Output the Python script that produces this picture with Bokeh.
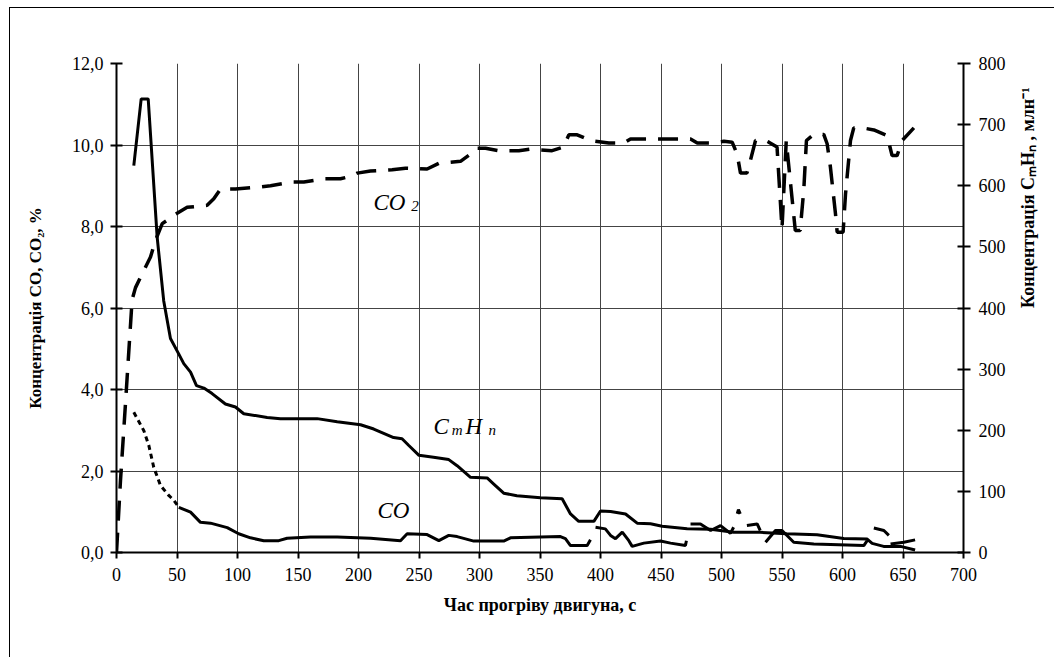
import math
from bokeh.plotting import figure
from bokeh.models import Range1d, LinearAxis, FixedTicker, Label
from bokeh.embed import file_html
from bokeh.resources import INLINE

NaN = float("nan")

# ---------------- data ----------------
x_ticks = [0, 50, 100, 150, 200, 250, 300, 350, 400, 450, 500, 550, 600, 650, 700]
left_ticks = [0, 2, 4, 6, 8, 10, 12]
left_tick_labels = ["0,0", "2,0", "4,0", "6,0", "8,0", "10,0", "12,0"]
right_ticks = [0, 100, 200, 300, 400, 500, 600, 700, 800]

# CmHn, млн^-1 (right axis)
hc_t = [14.3, 20.4, 26.2, 33.6, 39, 44.6, 51.4, 55.6, 61.2, 66.1, 72.2, 79, 90, 98.3,
        105.2, 124.5, 135.5, 165.8, 182.4, 201.7, 212.6, 229, 236, 241.6, 250, 262,
        274.6, 281.5, 292.6, 306.3, 311.8, 320, 330.9, 350.4, 368.3, 375.2, 382, 394.5,
        400, 408.3, 420.7, 430.3, 441.3, 451, 471.6, 491, 510, 532, 554, 579, 601,
        620.4, 624.5, 634, 648, 660]
hc_v = [633, 742, 742, 516, 412, 350, 325, 309, 295, 273, 269, 260, 243, 238,
        227, 221, 219, 219, 214, 209, 202, 188, 186, 175, 159, 156,
        152, 142, 123, 122, 112, 97, 93, 89.5, 88, 63, 51, 51,
        68, 67, 63, 48, 47, 43, 39, 38, 33, 33, 30.5, 29, 23,
        22, 15, 10, 10, 4]

# CO2, % (left axis)
co2_t = [0, 3.3, 6, 8.8, 11.6, 12.9, 15.7, 21.2, 28.1, 32.2, 37.8, 48.8, 58.4, 74.9,
         80.4, 86, 98.3, 114.8, 127.3, 143.8, 154.8, 171.3, 185.1, 193.4, 198.9, 209.9,
         227.8, 238.8, 256.7, 266.4, 284.3, 292.6, 296.7, 305, 316, 332.5, 342.1, 360,
         369.6, 373.8, 380.7, 391.7, 406.9, 419.3, 424.8, 449.6, 474.4, 480, 491, 502,
         508.8, 512.9, 515.7, 521, 523.9, 528.1, 536.4, 539.1, 545.9, 550, 553.5, 561,
         565, 568, 570.2, 576.3, 584.5, 587.3, 590, 594.2, 595.6, 600.5, 602.5, 606.6,
         609.3, 616.3, 625.9, 636.9, 641, 645.1, 649.3, 659]
co2_v = [0, 1.77, 3.0, 4.3, 5.6, 6.2, 6.5, 6.84, 7.25, 7.66, 8.07, 8.3, 8.47, 8.52,
         8.68, 8.92, 8.92, 8.96, 9.0, 9.09, 9.09, 9.17, 9.17, 9.23, 9.31, 9.36,
         9.39, 9.43, 9.41, 9.55, 9.6, 9.78, 9.92, 9.92, 9.86, 9.86, 9.9, 9.86,
         9.95, 10.25, 10.25, 10.11, 10.05, 10.05, 10.15, 10.15, 10.15, 10.05, 10.05, 10.09,
         10.07, 9.78, 9.31, 9.31, 9.62, 10.11, 10.11, 10.07, 9.95, 7.95, 10.1, 7.9,
         7.9, 8.9, 10.11, 10.26, 10.26, 10.03, 9.46, 8.31, 7.86, 7.86, 8.8, 10.11,
         10.42, 10.42, 10.37, 10.23, 9.74, 9.74, 10.11, 10.42]

# CO, % (left axis); NaN marks gaps in the record
co_t = [14.3, 22.6, 26.7, 30.8, 36.4, 43.2, 47.4, 51.5, 61.2, 69.4, 77.7, 91.5, 101,
        110.7, 121.7, 134.1, 141, 160.3, 182.4, 210, 234.7, 240.2, 256.7, 266.4, 274.6,
        281.5, 295.3, 320, 325.6, 366.9, 371, 375.2, 389, 391.7, NaN, 395.9, 404, 408.3,
        412.4, 418, 423.4, 426.2, 435.8, 449.6, 457.9, 470.2, 471, NaN, 474.4, 482.6,
        491, 499.2, 507.4, 510, NaN, 513, 514, 515.5, NaN, 521, 529.5, 532, NaN, 536.4,
        544.6, 550, 559.7, 576.3, 617.6, 620.4, NaN, 625.9, 634.2, 638.3, NaN, 639.7,
        650.7, 660]
co_v = [3.44, 2.99, 2.63, 2.09, 1.64, 1.40, 1.28, 1.11, 0.99, 0.74, 0.72, 0.61, 0.46,
        0.36, 0.29, 0.29, 0.35, 0.38, 0.38, 0.35, 0.29, 0.46, 0.44, 0.29, 0.42,
        0.39, 0.28, 0.28, 0.36, 0.39, 0.34, 0.17, 0.17, 0.31, NaN, 0.62, 0.58, 0.42,
        0.34, 0.5, 0.29, 0.15, 0.23, 0.28, 0.23, 0.17, 0.29, NaN, 0.70, 0.70,
        0.54, 0.66, 0.47, 0.62, NaN, 0.95, 1.05, 0.95, NaN, 0.66, 0.70, 0.54, NaN, 0.25,
        0.54, 0.54, 0.25, 0.21, 0.17, 0.29, NaN, 0.6, 0.54, 0.42, NaN, 0.21,
        0.25, 0.31]
co_sparse_end = 8  # first points drawn as a dotted line

x_title = "Час прогріву двигуна, с"
left_title = "Концентрація CO, CO₂, %"
right_title = "Концентрація CₘHₙ , млн⁻¹"

# ---------------- figure ----------------
SERIF = "Liberation Serif"
W, H = 1045, 650
p = figure(width=W, height=H, output_backend="svg", toolbar_location=None,
           x_range=Range1d(0, 700), y_range=Range1d(0, 12),
           min_border_left=106, min_border_right=92, min_border_top=55, min_border_bottom=106)
p.styles = {"border-left": "1px solid black", "border-top": "1px solid black",
            "margin-left": "9px", "margin-top": "7px"}
p.outline_line_color = None
p.extra_y_ranges = {"hc": Range1d(0, 800)}

# grid
p.xgrid.ticker = FixedTicker(ticks=x_ticks)
p.ygrid.ticker = FixedTicker(ticks=left_ticks)
for g in (p.xgrid, p.ygrid):
    g.grid_line_color = "#444444"
    g.grid_line_width = 1

def style_axis(ax):
    ax.axis_line_color = "black"
    ax.axis_line_width = 2
    ax.major_tick_line_color = "black"
    ax.major_tick_line_width = 2
    ax.minor_tick_line_color = None
    ax.major_label_text_font = SERIF
    ax.major_label_text_font_size = "18px"
    ax.major_label_text_color = "black"
    ax.axis_label_text_font = SERIF
    ax.axis_label_text_font_size = "18px"
    ax.axis_label_text_font_style = "bold"
    ax.axis_label_text_color = "black"

xa = p.xaxis[0]
style_axis(xa)
xa.ticker = FixedTicker(ticks=x_ticks)
xa.major_tick_in = 0
xa.major_tick_out = 6
xa.major_label_standoff = 9
xa.axis_label = x_title
xa.axis_label_standoff = 11

ya = p.yaxis[0]
style_axis(ya)
ya.ticker = FixedTicker(ticks=left_ticks)
ya.major_label_overrides = {t: s for t, s in zip(left_ticks, left_tick_labels)}
ya.major_tick_in = 6
ya.major_tick_out = 6
ya.major_label_standoff = 7
ya.axis_label = left_title
ya.axis_label_text_font_size = "17px"
ya.axis_label_standoff = 24

ra = LinearAxis(y_range_name="hc")
style_axis(ra)
ra.ticker = FixedTicker(ticks=right_ticks)
ra.major_tick_in = 6
ra.major_tick_out = 7
ra.major_label_standoff = 8
ra.axis_label = right_title
ra.axis_label_standoff = 19
ra.axis_label_orientation = math.pi / 2
p.add_layout(ra, "right")

# ---------------- series ----------------
p.line(co2_t, co2_v, line_color="black", line_width=3.5, line_dash="20 12")
p.line(hc_t, hc_v, y_range_name="hc", line_color="black", line_width=3)
p.line(co_t[:co_sparse_end], co_v[:co_sparse_end], line_color="black", line_width=3,
       line_dash="5 4")
p.line(co_t[co_sparse_end - 1:], co_v[co_sparse_end - 1:], line_color="black", line_width=3)

# ---------------- annotations ----------------
def lab(x, y, text, size, rng="default"):
    p.add_layout(Label(x=x, y=y, text=text, text_font=SERIF, text_font_style="italic",
                       text_font_size=size, text_color="black", y_range_name=rng,
                       text_baseline="alphabetic"))

lab(212.4, 8.59, "CO", "23px")
lab(243.5, 8.50, "2", "15px")
lab(262.0, 206, "C", "23px", "hc")
lab(277.0, 200, "m", "15px", "hc")
lab(288.4, 206, "H", "23px", "hc")
lab(307.4, 200, "n", "15px", "hc")
lab(215.7, 1.03, "CO", "23px")

open("out.html", "w").write(file_html(p, INLINE))
